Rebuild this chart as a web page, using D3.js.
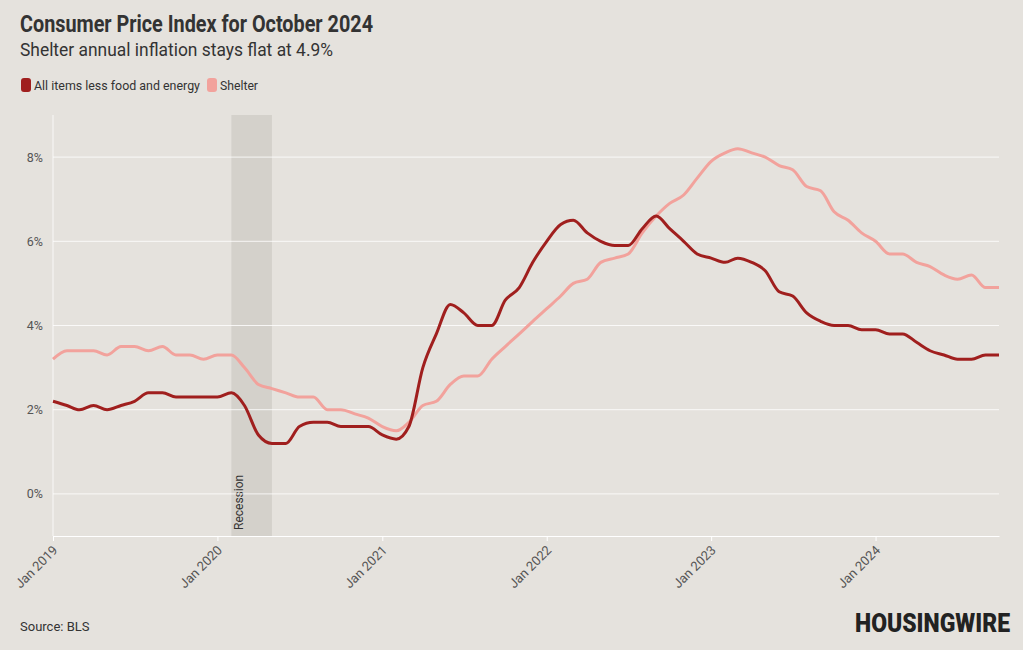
<!DOCTYPE html>
<html>
<head>
<meta charset="utf-8">
<script src="https://cdn.jsdelivr.net/npm/d3@7"></script>
<style>
  body { margin: 0; background: #e5e2dd; }
  svg { display: block; font-family: Roboto, "Liberation Sans", sans-serif; }
</style>
</head>
<body>
<svg id="chart" width="1023" height="650"></svg>
<script>
// monthly YoY % change, Jan 2019 .. Oct 2024
const startMonth = "2019-01";
const coreValues = [
  2.2, 2.1, 2.0, 2.1, 2.0, 2.1, 2.2, 2.4, 2.4, 2.3, 2.3, 2.3,
  2.3, 2.4, 2.1, 1.4, 1.2, 1.2, 1.6, 1.7, 1.7, 1.6, 1.6, 1.6,
  1.4, 1.3, 1.6, 3.0, 3.8, 4.5, 4.3, 4.0, 4.0, 4.6, 4.9, 5.5,
  6.0, 6.4, 6.5, 6.2, 6.0, 5.9, 5.9, 6.3, 6.6, 6.3, 6.0, 5.7,
  5.6, 5.5, 5.6, 5.5, 5.3, 4.8, 4.7, 4.3, 4.1, 4.0, 4.0, 3.9,
  3.9, 3.8, 3.8, 3.6, 3.4, 3.3, 3.2, 3.2, 3.3, 3.3
];
const shelterValues = [
  3.2, 3.4, 3.4, 3.4, 3.3, 3.5, 3.5, 3.4, 3.5, 3.3, 3.3, 3.2,
  3.3, 3.3, 3.0, 2.6, 2.5, 2.4, 2.3, 2.3, 2.0, 2.0, 1.9, 1.8,
  1.6, 1.5, 1.7, 2.1, 2.2, 2.6, 2.8, 2.8, 3.2, 3.5, 3.8, 4.1,
  4.4, 4.7, 5.0, 5.1, 5.5, 5.6, 5.7, 6.2, 6.6, 6.9, 7.1, 7.5,
  7.9, 8.1, 8.2, 8.1, 8.0, 7.8, 7.7, 7.3, 7.2, 6.7, 6.5, 6.2,
  6.0, 5.7, 5.7, 5.5, 5.4, 5.2, 5.1, 5.2, 4.9, 4.9
];
const seriesNames = ["All items less food and energy", "Shelter"];
const seriesColors = ["#a01f1e", "#f2a29c"];
const yTicks = [0, 2, 4, 6, 8];
const recession = ["2020-02", "2020-05"];

const svg = d3.select("#chart");
const parse = d3.timeParse("%Y-%m");
const start = parse(startMonth);
const dates = coreValues.map((d, i) => d3.timeMonth.offset(start, i));

const margin = { left: 53, right: 24, top: 115, bottom: 114 };
const x = d3.scaleTime()
  .domain([dates[0], dates[dates.length - 1]])
  .range([margin.left, 1023 - margin.right]);
const y = d3.scaleLinear().domain([-1, 9]).range([650 - margin.bottom, margin.top]);

// title block
svg.append("text").attr("x", 20).attr("y", 32)
  .attr("font-size", 23).attr("font-weight", 700).attr("fill", "#333")
  .attr("textLength", 353).attr("lengthAdjust", "spacingAndGlyphs")
  .text("Consumer Price Index for October 2024");
svg.append("text").attr("x", 20).attr("y", 56)
  .attr("font-size", 19).attr("fill", "#333")
  .attr("textLength", 313).attr("lengthAdjust", "spacingAndGlyphs")
  .text("Shelter annual inflation stays flat at 4.9%");

// legend
const legend = svg.append("g");
let lx = 21;
seriesNames.forEach((name, i) => {
  const w = i === 0 ? 166 : 38;
  legend.append("rect").attr("x", lx).attr("y", 78).attr("width", 10).attr("height", 14)
    .attr("rx", 3).attr("fill", seriesColors[i]);
  legend.append("text").attr("x", lx + 13).attr("y", 90)
    .attr("font-size", 13.5).attr("fill", "#333")
    .attr("textLength", w).attr("lengthAdjust", "spacingAndGlyphs")
    .text(name);
  lx += 13 + w + 7;
});

// recession band
const r0 = x(parse(recession[0])), r1 = x(parse(recession[1]));
svg.append("rect").attr("x", r0).attr("y", y(9)).attr("width", r1 - r0)
  .attr("height", y(-1) - y(9)).attr("fill", "#d4d1cb");
svg.append("text")
  .attr("transform", `translate(${r0 + 12},${y(-1) - 6}) rotate(-90)`)
  .attr("font-size", 12).attr("fill", "#333").text("Recession");

// grid
svg.append("g").selectAll("line").data(yTicks).join("line")
  .attr("x1", x.range()[0]).attr("x2", x.range()[1])
  .attr("y1", d => y(d)).attr("y2", d => y(d))
  .attr("stroke", "#fff").attr("stroke-opacity", 0.8);
svg.append("line").attr("x1", x.range()[0]).attr("x2", x.range()[0])
  .attr("y1", y(9)).attr("y2", y(-1)).attr("stroke", "#fff").attr("stroke-opacity", 0.8);

svg.append("g").selectAll("text").data(yTicks).join("text")
  .attr("x", 43).attr("y", d => y(d) + 4.5).attr("text-anchor", "end")
  .attr("font-size", 12.5).attr("fill", "#555").text(d => d + "%");

// x axis
const xAxis = svg.append("g").attr("transform", `translate(0,${y(-1)})`)
  .call(d3.axisBottom(x).ticks(d3.timeYear.every(1)).tickFormat(d3.timeFormat("Jan %Y"))
    .tickSize(5).tickSizeOuter(0));
xAxis.select(".domain").attr("stroke", "#fff");
xAxis.selectAll(".tick line").attr("stroke", "#fff");
xAxis.selectAll(".tick text")
  .attr("font-family", "Roboto, sans-serif").attr("font-size", 13).attr("fill", "#555")
  .attr("text-anchor", "end").attr("dy", null).attr("y", 0)
  .attr("transform", "translate(5,15) rotate(-45)");

// lines
const line = d3.line().x((d, i) => x(dates[i])).y(d => y(d)).curve(d3.curveMonotoneX);
[shelterValues, coreValues].forEach((vals, k) => {
  svg.append("path").datum(vals)
    .attr("d", line).attr("fill", "none")
    .attr("stroke", k === 0 ? seriesColors[1] : seriesColors[0])
    .attr("stroke-width", 3).attr("stroke-linejoin", "round");
});

// footer
svg.append("text").attr("x", 20).attr("y", 631).attr("font-size", 13).attr("fill", "#333")
  .text("Source: BLS");
svg.append("text").attr("transform", "translate(1010,632) scale(1,1.3)")
  .attr("text-anchor", "end")
  .attr("font-size", 20).attr("font-weight", 900)
  .attr("fill", "#222").attr("textLength", 155).attr("lengthAdjust", "spacingAndGlyphs")
  .text("HOUSINGWIRE");
</script>
</body>
</html>
